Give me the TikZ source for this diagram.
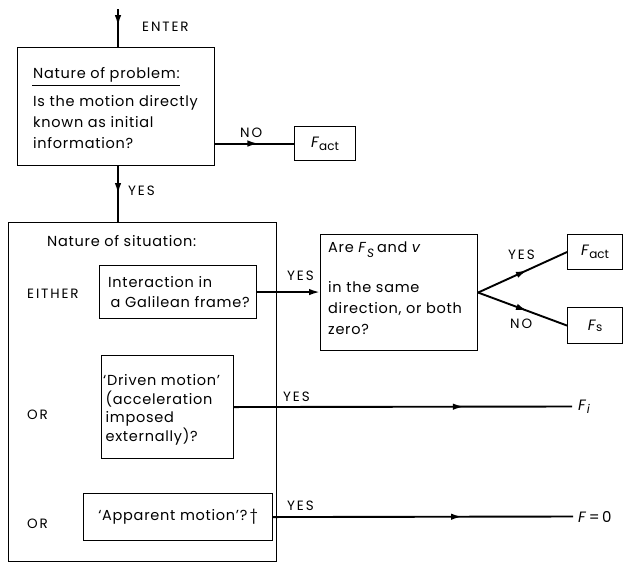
\documentclass[tikz,border=0pt]{standalone}
\usepackage{fontspec}
\setmainfont{Poppins}
\newfontfamily\labfont[LetterSpace=14]{Poppins}
\newfontfamily\boxfont[LetterSpace=5,Ligatures=TeX]{Poppins}
\usetikzlibrary{decorations.markings,arrows.meta}
\newcommand\Fsub[2][-3pt]{\textit{F}\raisebox{#1}{\fontsize{12}{12}\selectfont #2}}
\tikzset{
  x=1pt, y=-1pt,
  box/.style={draw, line width=1.1pt, inner sep=0pt, anchor=north west},
  txt/.style={inner sep=0pt, font=\boxfont\fontsize{14.5}{21}\selectfont, align=left},
  lab/.style={inner sep=0pt, font=\labfont\fontsize{13.5}{15}\selectfont, anchor=base west},
  flow/.style={line width=1.9pt},
  midarrow/.style={flow, postaction={decorate},
    decoration={markings, mark=at position #1 with {\arrow{Latex[length=11pt,width=6.5pt]}}}},
}
\begin{document}
\begin{tikzpicture}
\useasboundingbox (0,0) rectangle (623,565);
% entry
\coordinate (enter) at (118,9);
\node[lab] (enterlab) at (142,31) {ENTER};
% box 1
\node[box, minimum width=197pt, minimum height=118pt] (b1) at (17,47) {};
\node[txt, anchor=base west] (b1t1) at (33,78) {Nature of problem:};
\draw[line width=0.9pt] (32,85) -- (180,85);
\node[txt, anchor=north west] (b1t2) at (33,95.5) {Is the motion directly\\known as initial\\information?};
\draw[midarrow=0.45] (enter) -- (enter |- b1.north);
% F_act top
\node[box, minimum width=61pt, minimum height=34pt, font=\fontsize{15}{16}\selectfont] (fact1) at (294,126) {\Fsub{act}};
\draw[midarrow=0.55] (b1.east |- fact1.west) -- (fact1.west);
\node[lab] (nolab1) at (240,137) {NO};
% big box
\node[box, minimum width=268pt, minimum height=339pt] (big) at (8,222) {};
\draw[midarrow=0.5] (enter |- b1.south) -- (enter |- big.north);
\node[lab] (yeslab1) at (128,195) {YES};
\node[txt, anchor=base west] (sit) at (47,246) {Nature of situation:};
\node[lab] (either) at (27,298) {EITHER};
\node[lab] (or1) at (27,419) {OR};
\node[lab] (or2) at (27,528) {OR};
% Galilean
\node[box, minimum width=157pt, minimum height=53pt] (gal) at (99,265) {};
\node[txt, anchor=north west, font=\boxfont\fontsize{14.5}{20}\selectfont] (galt) at (108,276.5) {Interaction in\\\,a Galilean frame?};
% Are box
\node[box, minimum width=157pt, minimum height=116pt] (are) at (320,234) {};
\node[txt, anchor=base west] (aret1) at (328,252) {Are \Fsub[-5pt]{\textit{S}}\,and \textit{v}};
\node[txt, anchor=north west] (aret2) at (328,281.5) {in the same\\direction, or both\\zero?};
\draw[flow, -{Latex[length=11pt,width=6.5pt]}] (gal.east) -- (are.west |- gal.east);
\node[lab] (yeslab2) at (287,280) {YES};
% results
\node[box, minimum width=55pt, minimum height=35pt, font=\fontsize{15}{16}\selectfont] (fact2) at (567,234) {\Fsub{act}};
\node[box, minimum width=55pt, minimum height=36pt, font=\fontsize{15}{16}\selectfont] (fs) at (567,307) {\Fsub[-1pt]{s}};
\draw[midarrow=0.55] (are.east) -- (fact2.west);
\draw[midarrow=0.55] (are.east) -- (fs.west);
\node[lab] (yeslab3) at (508,259) {YES};
\node[lab] (nolab2) at (510,328) {NO};
% Driven
\node[box, minimum width=132pt, minimum height=103pt] (drv) at (101,355) {};
\node[txt, anchor=north west, font=\boxfont\fontsize{14.5}{18.5}\selectfont] (drvt) at (103,374.5) {‘Driven motion’\\\,(acceleration\\\,imposed\\\,externally)?};
\node[inner sep=0pt, inner xsep=6pt, anchor=west, font=\fontsize{15}{16}\selectfont] (fi) at (572,406.5) {\textit{F\kern1pt\raisebox{-3pt}{\fontsize{12}{12}\selectfont i}}};
\draw[midarrow=0.68] (drv.east) -- (fi.west);
\node[lab] (yeslab4) at (283,401) {YES};
% Apparent
\node[box, minimum width=189pt, minimum height=47pt, font=\boxfont\fontsize{14.5}{16}\selectfont] (app) at (83,493) {‘Apparent motion’?\,\textdagger};
\node[inner sep=0pt, inner xsep=5pt, anchor=west, font=\fontsize{15}{16}\selectfont] (f0) at (573,516.5) {\textit{F}\,=\,0};
\draw[midarrow=0.63] (app.east) -- (f0.west);
\node[lab] (yeslab5) at (287,510) {YES};
\end{tikzpicture}
\end{document}
